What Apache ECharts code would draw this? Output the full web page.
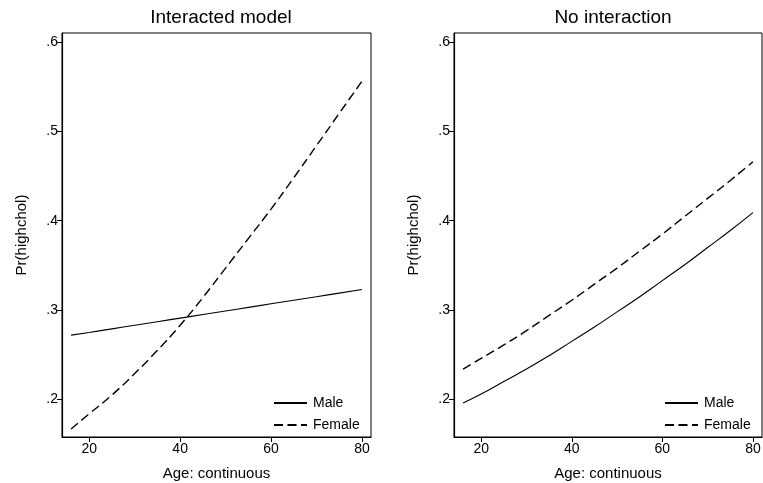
<!DOCTYPE html>
<html>
<head>
<meta charset="utf-8">
<script src="https://cdn.jsdelivr.net/npm/echarts@6/dist/echarts.min.js"></script>
<style>
  html, body { margin: 0; padding: 0; background: #fff; }
  #chart { width: 763px; height: 483px; }
</style>
</head>
<body>
<div id="chart"></div>
<script>
const ages = [16, 20, 25, 30, 35, 40, 45, 50, 55, 60, 65, 70, 75, 80];

// Interacted model
const maleInteracted   = [0.272, 0.275, 0.279, 0.283, 0.287, 0.291, 0.295, 0.299, 0.303, 0.307, 0.311, 0.315, 0.319, 0.323];
const femaleInteracted = [0.167, 0.184, 0.205, 0.229, 0.255, 0.283, 0.314, 0.347, 0.380, 0.413, 0.448, 0.484, 0.520, 0.556];

// No interaction
const maleNoInter   = [0.196, 0.206, 0.220, 0.234, 0.249, 0.265, 0.281, 0.298, 0.315, 0.333, 0.351, 0.370, 0.389, 0.409];
const femaleNoInter = [0.234, 0.246, 0.261, 0.277, 0.294, 0.311, 0.329, 0.347, 0.366, 0.385, 0.405, 0.425, 0.445, 0.466];

const xTicks = [20, 40, 60, 80];
const yTicks = [0.2, 0.3, 0.4, 0.5, 0.6];
const panelTitles = ['Interacted model', 'No interaction'];

const FONT = '"Liberation Sans", Arial, Helvetica, sans-serif';
const pairs = (ys) => ages.map((a, i) => [a, ys[i]]);

const chart = echarts.init(document.getElementById('chart'));

const grids = [
  { left: 62, right: 392, top: 33, bottom: 46 },
  { left: 454, right: 1, top: 33, bottom: 46 }
];

function xAxisFor(idx) {
  return {
    type: 'value', gridIndex: idx, min: 14, max: 82,
    name: 'Age: continuous', nameLocation: 'middle', nameGap: 29,
    nameTextStyle: { fontFamily: FONT, fontSize: 15, color: '#000' },
    axisLine: { show: true, lineStyle: { color: '#000', width: 1.2 } },
    axisTick: { show: true, length: 5, customValues: xTicks, lineStyle: { color: '#000' } },
    axisLabel: { customValues: xTicks, fontFamily: FONT, fontSize: 14, color: '#000', margin: 5 },
    splitLine: { show: false }
  };
}

function yAxisFor(idx) {
  return {
    type: 'value', gridIndex: idx, min: 0.158, max: 0.61,
    name: 'Pr(highchol)', nameLocation: 'middle', nameGap: 33,
    nameTextStyle: { fontFamily: FONT, fontSize: 15, color: '#000' },
    axisLine: { show: true, lineStyle: { color: '#000', width: 1.2 } },
    axisTick: { show: true, length: 5, customValues: yTicks, lineStyle: { color: '#000' } },
    axisLabel: {
      customValues: yTicks, fontFamily: FONT, fontSize: 14, color: '#000', margin: 4,
      formatter: (v) => String(+(+v).toFixed(1)).replace(/^0/, '')
    },
    splitLine: { show: false }
  };
}

function lineSeries(name, idx, ys, dashed) {
  return {
    name: name, type: 'line', xAxisIndex: idx, yAxisIndex: idx,
    data: pairs(ys), symbol: 'none', showSymbol: false, smooth: true,
    lineStyle: { color: '#000', width: dashed ? 1.4 : 1.1, type: dashed ? [9, 4.5] : 'solid' },
    itemStyle: { color: '#000' }
  };
}

function legendFor(left) {
  return {
    orient: 'vertical', left: left, top: 391,
    itemWidth: 33, itemHeight: 14, itemGap: 8,
    data: ['Male', 'Female'],
    itemStyle: { opacity: 0 },
    textStyle: { fontFamily: FONT, fontSize: 14, color: '#000', padding: [0, 0, 0, 1] }
  };
}

chart.setOption({
  animation: false,
  title: [
    { text: panelTitles[0], left: 216, top: 3, textAlign: 'center',
      textStyle: { fontFamily: FONT, fontSize: 19, fontWeight: 'normal', color: '#000' } },
    { text: panelTitles[1], left: 608, top: 3, textAlign: 'center',
      textStyle: { fontFamily: FONT, fontSize: 19, fontWeight: 'normal', color: '#000' } }
  ],
  grid: grids.map(g => Object.assign({ show: true, borderColor: '#000', borderWidth: 1, outerBoundsMode: 'none' }, g)),
  legend: [legendFor(268), legendFor(659)],
  xAxis: [xAxisFor(0), xAxisFor(1)],
  yAxis: [yAxisFor(0), yAxisFor(1)],
  series: [
    lineSeries('Male', 0, maleInteracted, false),
    lineSeries('Female', 0, femaleInteracted, true),
    lineSeries('Male', 1, maleNoInter, false),
    lineSeries('Female', 1, femaleNoInter, true)
  ]
});
</script>
</body>
</html>
